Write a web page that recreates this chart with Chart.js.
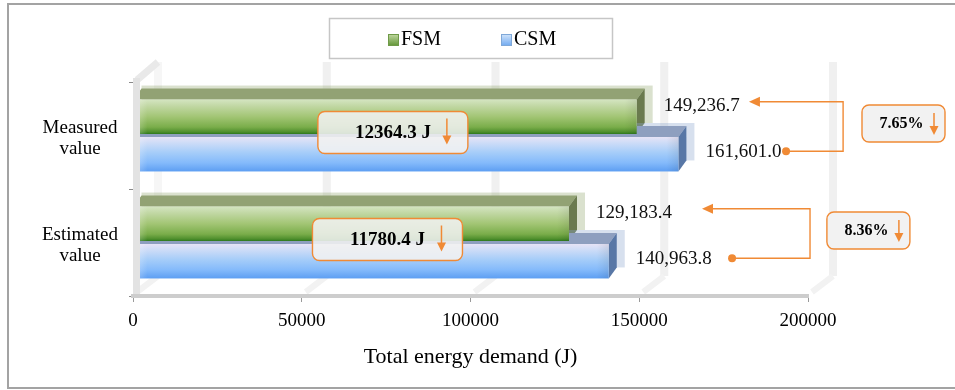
<!DOCTYPE html>
<html>
<head>
<meta charset="utf-8">
<script src="https://cdn.jsdelivr.net/npm/chart.js@4.4.1/dist/chart.umd.min.js"></script>
<style>
  html, body { margin: 0; padding: 0; background: #fff; }
  #wrap { width: 955px; height: 390px; }
</style>
</head>
<body>
<div id="wrap"><canvas id="energyChart" width="955" height="390"></canvas></div>
<script>
// values (J)
const categories = [['Measured', 'value'], ['Estimated', 'value']];
const seriesNames = ['FSM', 'CSM'];
const fsmValues = [149236.7, 129183.4];
const csmValues = [161601.0, 140963.8];
const xTicks = [0, 50000, 100000, 150000, 200000];

const SERIF = "'Liberation Serif', 'Times New Roman', serif";
const ORANGE = '#f08a35';
const DX = 8, DY = 11;      // bar extrusion
const WALL_DX = 25, WALL_DY = 20;

// look of each series: front gradient stops, top face, side face, halo
const looks = [
  { stops: [[0, '#d4e5c1'], [0.18, '#c2d8a5'], [0.5, '#a2c574'], [0.8, '#7aad4a'], [0.94, '#4f8f2d'], [1, '#2c781c']],
    top: '#92a274', side: '#6a7a4e', halo: 'rgba(150,168,115,0.35)',
    swatch: ['#c3daa3', '#5f9334', '#6f9a48'] },
  { stops: [[0, '#e6e3f6'], [0.15, '#d0ddf7'], [0.45, '#a6cdf9'], [0.75, '#84bafb'], [1, '#5d9ef2']],
    top: '#8e9fbf', side: '#5877a6', halo: 'rgba(140,165,205,0.35)',
    swatch: ['#d4e6fb', '#6ea8f0', '#7fa8d8'] }
];
const labelShift = [-11, -2];

// annotation placement, x in axis units, y relative to category rows
const diffBoxes = [{ at: 77000, w: 150, h: 42 }, { at: 75400, w: 150, h: 42 }];
const pctLinks = [
  { tip: 182500, dot: 193500, elbow: 210400, box: 216000, w: 83, h: 37 },
  { tip: 168600, dot: 177500, elbow: 200600, box: 205600, w: 83, h: 37 }
];

function fmt(v) {
  return v.toLocaleString('en-US', { minimumFractionDigits: 1, maximumFractionDigits: 1 });
}

function downArrow(ctx, x, y1, y2) {
  ctx.strokeStyle = ORANGE; ctx.fillStyle = ORANGE; ctx.lineWidth = 1.5;
  ctx.beginPath(); ctx.moveTo(x, y1); ctx.lineTo(x, y2 - 7); ctx.stroke();
  ctx.beginPath(); ctx.moveTo(x, y2); ctx.lineTo(x - 4.5, y2 - 9); ctx.lineTo(x + 4.5, y2 - 9); ctx.closePath(); ctx.fill();
}

function noteBox(ctx, x, y, w, h, fill) {
  ctx.beginPath();
  ctx.roundRect(x, y, w, h, 7);
  ctx.fillStyle = fill; ctx.fill();
  ctx.strokeStyle = ORANGE; ctx.lineWidth = 1.4; ctx.stroke();
}

const scene3d = {
  id: 'scene3d',
  beforeDraw(chart) {
    const { ctx, chartArea: ca } = chart;
    const xs = chart.scales.x;
    ctx.save();
    // back wall grid and floor lines
    xTicks.forEach(v => {
      const fx = xs.getPixelForValue(v);
      const bx = fx + WALL_DX;
      ctx.fillStyle = v === 0 ? '#f6f6f6' : '#f0f0f0';
      ctx.fillRect(bx - 4, ca.top - WALL_DY, 8, ca.bottom - ca.top);
      ctx.strokeStyle = '#f2f2f2'; ctx.lineWidth = 6;
      ctx.beginPath(); ctx.moveTo(fx + 4, ca.bottom - 4); ctx.lineTo(bx, ca.bottom - WALL_DY); ctx.stroke();
    });
    // top edge of the side wall
    ctx.strokeStyle = '#e9e9e9'; ctx.lineWidth = 7;
    ctx.beginPath(); ctx.moveTo(ca.left + 4, ca.top - 2); ctx.lineTo(ca.left + WALL_DX, ca.top - WALL_DY); ctx.stroke();
    ctx.restore();
  },
  beforeDatasetsDraw(chart) {
    const { ctx } = chart;
    const bars = [];
    chart.data.datasets.forEach((ds, di) => {
      chart.getDatasetMeta(di).data.forEach((el, i) => {
        const p = el.getProps(['x', 'y', 'base', 'height'], true);
        bars.push({ di, i, L: p.base, R: p.x, top: p.y - p.height / 2, bot: p.y + p.height / 2, y: p.y });
      });
    });
    ctx.save();
    // hidden faces first
    bars.forEach(b => {
      const lk = looks[b.di];
      ctx.fillStyle = lk.halo;
      ctx.fillRect(b.L + DX, b.top - DY - 3, b.R - b.L + 8, b.bot - b.top + 3);
      ctx.fillStyle = lk.top;
      ctx.beginPath();
      ctx.moveTo(b.L, b.top); ctx.lineTo(b.L + DX, b.top - DY); ctx.lineTo(b.R + DX, b.top - DY); ctx.lineTo(b.R, b.top);
      ctx.closePath(); ctx.fill();
      ctx.fillStyle = lk.side;
      ctx.beginPath();
      ctx.moveTo(b.R, b.top); ctx.lineTo(b.R + DX, b.top - DY); ctx.lineTo(b.R + DX, b.bot - DY); ctx.lineTo(b.R, b.bot);
      ctx.closePath(); ctx.fill();
    });
    // front faces
    bars.forEach(b => {
      const lk = looks[b.di];
      const g = ctx.createLinearGradient(0, b.top, 0, b.bot);
      lk.stops.forEach(s => g.addColorStop(s[0], s[1]));
      ctx.fillStyle = g;
      ctx.fillRect(b.L, b.top, b.R - b.L, b.bot - b.top);
      const h = ctx.createLinearGradient(b.L, 0, b.R, 0);
      const w = b.R - b.L;
      h.addColorStop(0, 'rgba(255,255,255,0.35)');
      h.addColorStop(14 / w, 'rgba(255,255,255,0)');
      h.addColorStop(1 - 12 / w, 'rgba(0,0,0,0)');
      h.addColorStop(1, 'rgba(0,0,0,0.08)');
      ctx.fillStyle = h;
      ctx.fillRect(b.L, b.top, w, b.bot - b.top);
    });
    ctx.restore();
    chart.$bars = bars;
    return false;
  },
  afterDraw(chart) {
    const { ctx, chartArea: ca } = chart;
    const xs = chart.scales.x, ys = chart.scales.y;
    const bars = chart.$bars || [];
    ctx.save();
    // side wall front edge
    ctx.fillStyle = '#e3e3e3';
    ctx.fillRect(ca.left, ca.top - 4, 7, ca.bottom - ca.top + 2);

    // value labels
    ctx.font = '19px ' + SERIF; ctx.fillStyle = '#111';
    ctx.textAlign = 'left'; ctx.textBaseline = 'middle';
    const labelPos = {};
    bars.forEach(b => {
      const v = chart.data.datasets[b.di].data[b.i];
      const ly = b.y + labelShift[b.di];
      ctx.fillText(fmt(v), b.R + 27, ly);
      labelPos[b.di + '_' + b.i] = ly;
    });

    // difference boxes
    categories.forEach((c, i) => {
      const diff = csmValues[i] - fsmValues[i];
      const bx = diffBoxes[i];
      const cx = xs.getPixelForValue(bx.at), cy = ys.getPixelForValue(i) - 3;
      const left = cx - bx.w / 2, top = cy - bx.h / 2;
      noteBox(ctx, left, top, bx.w, bx.h, 'rgba(241,241,241,0.88)');
      ctx.fillStyle = '#000'; ctx.font = 'bold 19px ' + SERIF;
      ctx.textAlign = 'center'; ctx.textBaseline = 'middle';
      ctx.fillText(diff.toFixed(1) + ' J', cx, cy + 1);
      downArrow(ctx, left + 129, top + 7, top + 33);
    });

    // percentage links
    categories.forEach((c, i) => {
      const pct = (csmValues[i] - fsmValues[i]) / csmValues[i] * 100;
      const pl = pctLinks[i];
      const tipY = labelPos['0_' + i] - 4, dotY = labelPos['1_' + i] - 1;
      const tipX = xs.getPixelForValue(pl.tip), dotX = xs.getPixelForValue(pl.dot), elX = xs.getPixelForValue(pl.elbow);
      ctx.strokeStyle = ORANGE; ctx.fillStyle = ORANGE; ctx.lineWidth = 1.4;
      ctx.beginPath();
      ctx.moveTo(dotX, dotY); ctx.lineTo(elX, dotY); ctx.lineTo(elX, tipY); ctx.lineTo(tipX + 9, tipY);
      ctx.stroke();
      ctx.beginPath(); ctx.moveTo(tipX, tipY); ctx.lineTo(tipX + 11, tipY - 5); ctx.lineTo(tipX + 11, tipY + 5); ctx.closePath(); ctx.fill();
      ctx.beginPath(); ctx.arc(dotX, dotY, 4, 0, Math.PI * 2); ctx.fill();

      const left = xs.getPixelForValue(pl.box), cy = (tipY + dotY) / 2 - 3, top = cy - pl.h / 2;
      noteBox(ctx, left, top, pl.w, pl.h, '#f2f2f2');
      ctx.fillStyle = '#000'; ctx.font = 'bold 16px ' + SERIF;
      ctx.textAlign = 'center'; ctx.textBaseline = 'middle';
      ctx.fillText(pct.toFixed(2) + '%', left + pl.w / 2 - 2, cy);
      downArrow(ctx, left + 72, top + 8, top + 30);
    });

    // legend
    ctx.strokeStyle = '#c6c6c6'; ctx.lineWidth = 1.5;
    ctx.strokeRect(329.5, 18.5, 283, 40);
    const legendX = [388, 501];
    chart.data.datasets.forEach((ds, di) => {
      const sw = looks[di].swatch, x = legendX[di];
      const g = ctx.createLinearGradient(0, 34, 0, 46);
      g.addColorStop(0, sw[0]); g.addColorStop(1, sw[1]);
      ctx.fillStyle = g; ctx.fillRect(x, 34, 11, 12);
      ctx.strokeStyle = sw[2]; ctx.lineWidth = 1; ctx.strokeRect(x + 0.5, 34.5, 10, 11);
      ctx.fillStyle = '#000'; ctx.font = '20px ' + SERIF;
      ctx.textAlign = 'left'; ctx.textBaseline = 'middle';
      ctx.fillText(ds.label, x + 13, 40);
    });

    // outer frame
    ctx.strokeStyle = '#a3a3a3'; ctx.lineWidth = 2;
    ctx.strokeRect(8, 4, 960, 384);
    ctx.restore();
  }
};

new Chart(document.getElementById('energyChart'), {
  type: 'bar',
  data: {
    labels: categories,
    datasets: [
      { label: seriesNames[0], data: fsmValues, backgroundColor: '#8cb85c' },
      { label: seriesNames[1], data: csmValues, backgroundColor: '#7fb4f5' }
    ]
  },
  options: {
    indexAxis: 'y',
    responsive: false,
    animation: false,
    devicePixelRatio: 1,
    categoryPercentage: 0.70,
    barPercentage: 0.92,
    layout: { padding: { left: 20, right: 147, top: 82, bottom: 0 } },
    scales: {
      x: {
        type: 'linear', min: 0, max: 200000,
        afterBuildTicks: s => { s.ticks = xTicks.map(v => ({ value: v })); },
        afterFit: s => { s.height = 94; },
        grid: { drawOnChartArea: false, drawTicks: true, tickLength: 6, color: '#9a9a9a' },
        border: { display: true, color: '#cdcdcd', width: 4 },
        ticks: { color: '#000', padding: 8, font: { family: SERIF, size: 19 }, callback: v => String(v) },
        title: { display: true, text: 'Total energy demand (J)', color: '#000',
                 font: { family: SERIF, size: 22 }, padding: { top: 0, bottom: 20 } }
      },
      y: {
        afterFit: s => { s.width = 113; },
        grid: { offset: true, drawOnChartArea: false, drawTicks: true, tickLength: 4, color: '#8a8a8a' },
        border: { display: false },
        ticks: { color: '#000', crossAlign: 'center', padding: 11, labelOffset: 3,
                 font: { family: SERIF, size: 19, lineHeight: 1.15 } }
      }
    },
    plugins: { legend: { display: false }, tooltip: { enabled: false } }
  },
  plugins: [scene3d]
});
</script>
</body>
</html>
